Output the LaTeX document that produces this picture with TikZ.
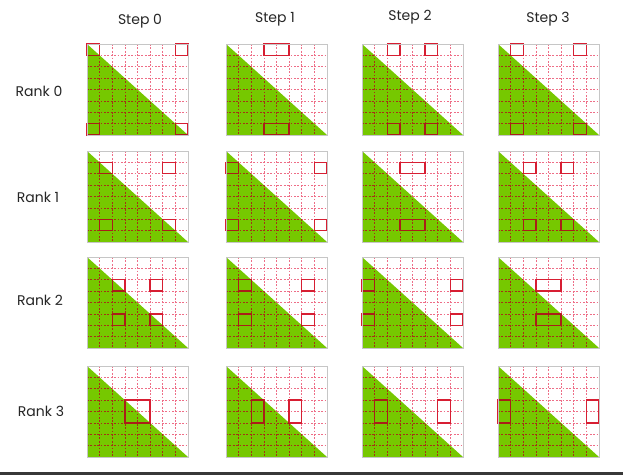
\documentclass[tikz,border=0pt]{standalone}
\usepackage{fontspec}
\setmainfont{Poppins}
\definecolor{nvgreen}{RGB}{118,200,0}
\definecolor{gridpink}{RGB}{238,110,135}
\definecolor{griddark}{RGB}{165,50,20}
\definecolor{boxred}{RGB}{215,30,50}
\definecolor{boxdark}{RGB}{170,30,25}
\newcommand\spansof[1]{\ifcase\numexpr#1\relax 0/1,7/1\or 1/1,6/1\or 2/1,5/1\or 3/2\fi}
\begin{document}
\begin{tikzpicture}[x=1pt,y=-1pt,
  lbl/.style={font=\fontsize{14}{16}\selectfont, text=black!85, inner sep=0pt},
  panelborder/.style={draw=gray!45, line width=0.9pt},
  gridline/.style={line width=0.7pt, dash pattern=on 1.7pt off 1.7pt},
  blk/.style={line width=1.3pt},
  tri/.style={fill=nvgreen}]
\useasboundingbox (0,0) rectangle (623,475);
\fill[white] (0,0) rectangle (623,475);
\fill[black!78] (0,471.5) rectangle (623,475);
% column and row labels
\node[lbl] (step0) at (140,21) {Step 0};
\node[lbl] (step1) at (275,19) {Step 1};
\node[lbl] (step2) at (410,17) {Step 2};
\node[lbl] (step3) at (548,19) {Step 3};
\node[lbl] (rank0) at (39,91) {Rank 0};
\node[lbl] (rank1) at (38,197) {Rank 1};
\node[lbl] (rank2) at (40,300) {Rank 2};
\node[lbl] (rank3) at (41,411) {Rank 3};
% panels
\foreach \rk/\Y in {0/44,1/151,2/257,3/366}{
  \foreach \st/\X in {0/87,1/226,2/362,3/498}{
    \pgfmathtruncatemacro\kv{mod(\rk-\st+4,4)}
    \edef\rowspans{\spansof{\rk}}
    \edef\colspans{\spansof{\kv}}
    \begin{scope}[shift={(\X,\Y)}, x=12.625pt, y=-11.375pt]
      \fill[tri] (0,0) -- (0,8) -- (8,8) -- cycle;
      % grid and blocks over the white part
      \foreach \i in {1,...,7}{
        \draw[gridline, draw=gridpink] (\i,0) -- (\i,8);
        \draw[gridline, draw=gridpink] (0,\i) -- (8,\i);
      }
      \foreach \ra/\rl in \rowspans {
        \foreach \ca/\cl in \colspans {
          \draw[blk, draw=boxred] (\ca,\ra) rectangle ++(\cl,\rl);
        }
      }
      % same over the green part, darker
      \begin{scope}
        \clip (0,0) -- (0,8) -- (8,8) -- cycle;
        \foreach \i in {1,...,7}{
          \draw[gridline, draw=griddark] (\i,0) -- (\i,8);
          \draw[gridline, draw=griddark] (0,\i) -- (8,\i);
        }
        \foreach \ra/\rl in \rowspans {
          \foreach \ca/\cl in \colspans {
            \draw[blk, draw=boxdark] (\ca,\ra) rectangle ++(\cl,\rl);
          }
        }
      \end{scope}
      \draw[panelborder] (0,0) rectangle (8,8);
    \end{scope}
  }
}
\end{tikzpicture}
\end{document}
